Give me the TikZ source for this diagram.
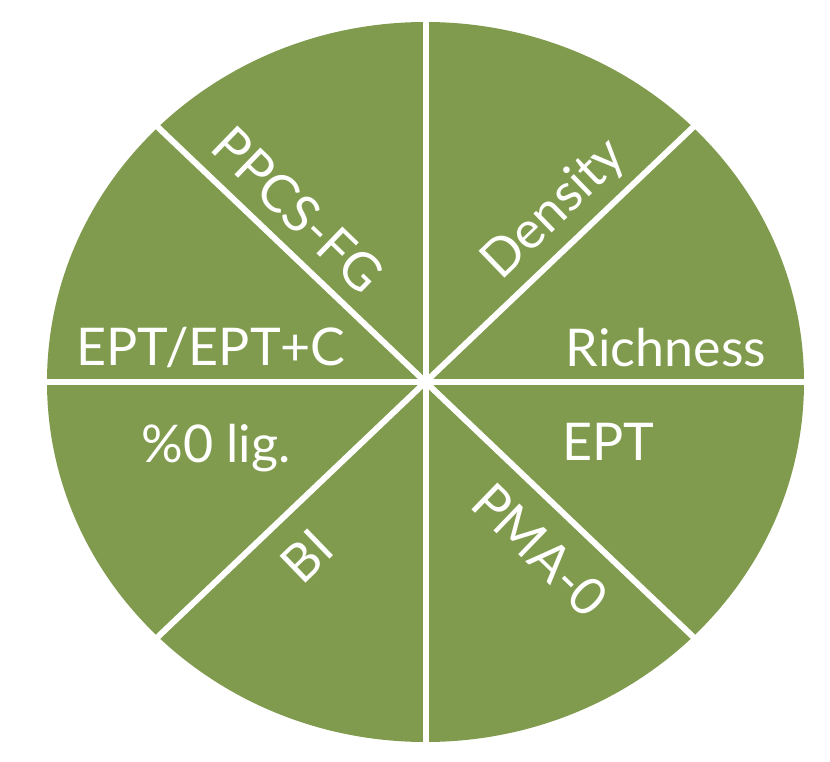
\documentclass[tikz,border=0pt]{standalone}
\usepackage{fontspec}
\setmainfont{Lato}
\definecolor{pie}{RGB}{128,155,77}

\begin{document}
\begin{tikzpicture}[x=1pt,y=-1pt]
\tikzstyle{every node}+=[inner sep=0pt,text=white,text height=37pt,text depth=0pt,font=\fontsize{52}{60}\selectfont]
\useasboundingbox (0,0) rectangle (830,762);
\coordinate (c) at (425.5,382);
\fill [pie] (c) ellipse [x radius=378.5, y radius=360];
% spokes
\coordinate (n) at (425.5,15);
\coordinate (s) at (425.5,749);
\coordinate (w) at (40,382);
\coordinate (e) at (811,382);
\coordinate (nw) at (150.8,120.4);
\coordinate (se) at (700.2,643.6);
\coordinate (ne) at (700.2,120.4);
\coordinate (sw) at (150.8,643.6);
\draw [white, line width=6] (n) -- (s);
\draw [white, line width=6] (w) -- (e);
\draw [white, line width=6] (nw) -- (se);
\draw [white, line width=6] (ne) -- (sw);
% labels
\node (ppcs) at (298,210) [rotate=-44] {PPCS-FG};
\node (density) at (552,207) [rotate=44] {Density};
\node (eptc) at (211,346.5) {EPT/EPT+C};
\node (rich) at (666,347.5) {Richness};
\node (lig) at (216,443.5) {\%0 lig.};
\node (ept) at (608,441.5) {EPT};
\node (bi) at (307,556) [rotate=44] {BI};
\node (pma) at (540,550) [rotate=-44] {PMA-0};
\end{tikzpicture}
\end{document}
